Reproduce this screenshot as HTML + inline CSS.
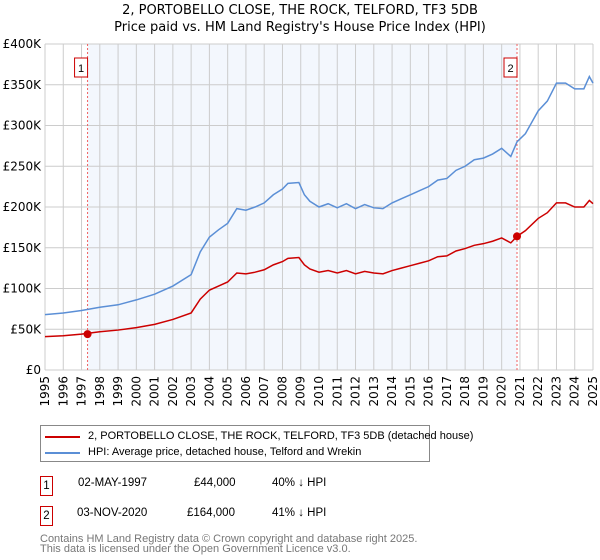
<!DOCTYPE html>
<html><head><meta charset="utf-8"><style>
body{margin:0;background:#fff;font-family:"Liberation Sans","DejaVu Sans",sans-serif;}
#wrap{position:relative;width:600px;height:560px;overflow:hidden;}
.t{position:absolute;font-size:11.5px;color:#000;white-space:nowrap;}
</style></head><body>
<div id="wrap">
<svg id="chart" width="600" height="420" style="position:absolute;left:0;top:0">
<text x="300" y="14" text-anchor="middle" font-size="13" font-family="DejaVu Sans, sans-serif">2, PORTOBELLO CLOSE, THE ROCK, TELFORD, TF3 5DB</text>
<text x="300" y="31" text-anchor="middle" font-size="13" font-family="DejaVu Sans, sans-serif">Price paid vs. HM Land Registry's House Price Index (HPI)</text>
<g id="grid"></g><g id="series"></g><g id="axes"></g>
</svg>
<div style="position:absolute;left:40px;top:425px;width:388px;height:35px;border:1px solid #888;font-family:'Liberation Sans',sans-serif;font-size:11px;white-space:nowrap">
 <div style="position:absolute;left:4px;top:3px;width:380px;height:14px"><span style="position:absolute;left:0;top:7px;width:35px;height:2px;background:#cc0000"></span><span style="position:absolute;left:43px;top:1px">2, PORTOBELLO CLOSE, THE ROCK, TELFORD, TF3 5DB (detached house)</span></div>
 <div style="position:absolute;left:4px;top:19px;width:380px;height:14px"><span style="position:absolute;left:0;top:7px;width:35px;height:2px;background:#5b8fd6"></span><span style="position:absolute;left:43px;top:1px">HPI: Average price, detached house, Telford and Wrekin</span></div>
</div>
<div style="font-family:'Liberation Sans',sans-serif;font-size:11.5px">
<div style="position:absolute;left:40px;top:476px;width:11px;height:18px;border:1px solid #cc0000;text-align:center;line-height:18px">1</div>
<div class="t" style="left:78px;top:477px">02-MAY-1997</div>
<div class="t" style="left:194px;top:477px">£44,000</div>
<div class="t" style="left:272px;top:477px">40% ↓ HPI</div>
<div style="position:absolute;left:40px;top:506px;width:11px;height:18px;border:1px solid #cc0000;text-align:center;line-height:18px">2</div>
<div class="t" style="left:77px;top:507px">03-NOV-2020</div>
<div class="t" style="left:187px;top:507px">£164,000</div>
<div class="t" style="left:272px;top:507px">41% ↓ HPI</div>
<div class="t" style="left:40px;top:534px;color:#777;line-height:10px;font-size:11px">Contains HM Land Registry data © Crown copyright and database right 2025.<br>This data is licensed under the Open Government Licence v3.0.</div>
</div>
</div>
<script>
const years=[1995,1996,1997,1998,1999,2000,2001,2002,2003,2003.5,2004,2004.5,2005,2005.5,2006,2006.5,2007,2007.5,2008,2008.3,2008.9,2009.2,2009.5,2010,2010.5,2011,2011.5,2012,2012.5,2013,2013.5,2014,2014.5,2015,2015.5,2016,2016.5,2017,2017.5,2018,2018.5,2019,2019.5,2020,2020.5,2020.84,2021.3,2022,2022.5,2023,2023.5,2024,2024.5,2024.8,2025];
const hpiValues=[68,70,73,77,80,86,93,103,117,145,163,172,180,198,196,200,205,215,222,229,230,215,207,200,204,199,204,198,203,199,198,205,210,215,220,225,233,235,245,250,258,260,265,272,262,280,290,318,330,352,352,345,345,360,352];
const saleYears=[1997.33,2020.84];
const saleValues=[44,164];
const propValues=[41,42,44,47,49,52,56,62,70,87,98,103,108,119,118,120,123,129,133,137,138,129,124,120,122,119,122,118,121,119,118,122,125,128,131,134,139,140,146,149,153,155,158,162,156,164,171,186,193,205,205,200,200,208,204];
const yTicks=[0,50,100,150,200,250,300,350,400];
const yLabels=["£0","£50K","£100K","£150K","£200K","£250K","£300K","£350K","£400K"];
const xTicks=[];for(let y=1995;y<=2025;y++)xTicks.push(y);
const X0=45,X1=593,Y0=370,Y1=44;
const xs=v=>X0+(v-1995)/30*(X1-X0);
const ys=v=>Y0-v/400*(Y0-Y1);
const NS="http://www.w3.org/2000/svg";
function mk(p,tag,a){const e=document.createElementNS(NS,tag);for(const k in a)e.setAttribute(k,a[k]);p.appendChild(e);return e;}
const g=document.getElementById('grid'),s=document.getElementById('series'),ax=document.getElementById('axes');
const shade=mk(g,'rect',{x:xs(saleYears[0]),y:Y1,width:xs(saleYears[1])-xs(saleYears[0]),height:Y0-Y1,fill:'#eef3fc',opacity:0.7});


xTicks.forEach(y=>{const l=mk(g,'line',{x1:xs(y),x2:xs(y),y1:Y1,y2:Y0,stroke:'#ccc'});


const t=mk(ax,'text',{transform:`translate(${xs(y)+4},${Y0+6}) rotate(-90)`,'text-anchor':'end','font-size':12,'font-family':'DejaVu Sans, sans-serif'});t.textContent=y;

});
yTicks.forEach((v,i)=>{const l=mk(g,'line',{x1:X0,x2:X1,y1:ys(v),y2:ys(v),stroke:'#ccc'});


const t=mk(ax,'text',{x:X0-4,y:ys(v)+4,'text-anchor':'end','font-size':12,'font-family':'DejaVu Sans, sans-serif'});t.textContent=yLabels[i];

});
saleYears.forEach((y,i)=>{const l=mk(g,'line',{x1:xs(y),x2:xs(y),y1:Y1,y2:Y0,stroke:'#f06060','stroke-dasharray':'2,2'});


const bx=mk(ax,'rect',{x:xs(y)-13,y:58,width:13,height:19,fill:'#fff',stroke:'#cc0000'});


const t=mk(ax,'text',{x:xs(y)-6.5,y:72,'text-anchor':'middle','font-size':11});t.textContent=i+1;

});
const hp=mk(s,'polyline',{points:years.map((y,i)=>xs(y)+','+ys(hpiValues[i])).join(' '),fill:'none',stroke:'#5b8fd6','stroke-width':1.5});


const pp=mk(s,'polyline',{points:years.map((y,i)=>xs(y)+','+ys(propValues[i])).join(' '),fill:'none',stroke:'#cc0000','stroke-width':1.5});


saleYears.forEach((y,i)=>{const c=mk(s,'circle',{cx:xs(y),cy:ys(saleValues[i]),r:4,fill:'#cc0000'});

});
</script>
</body></html>
